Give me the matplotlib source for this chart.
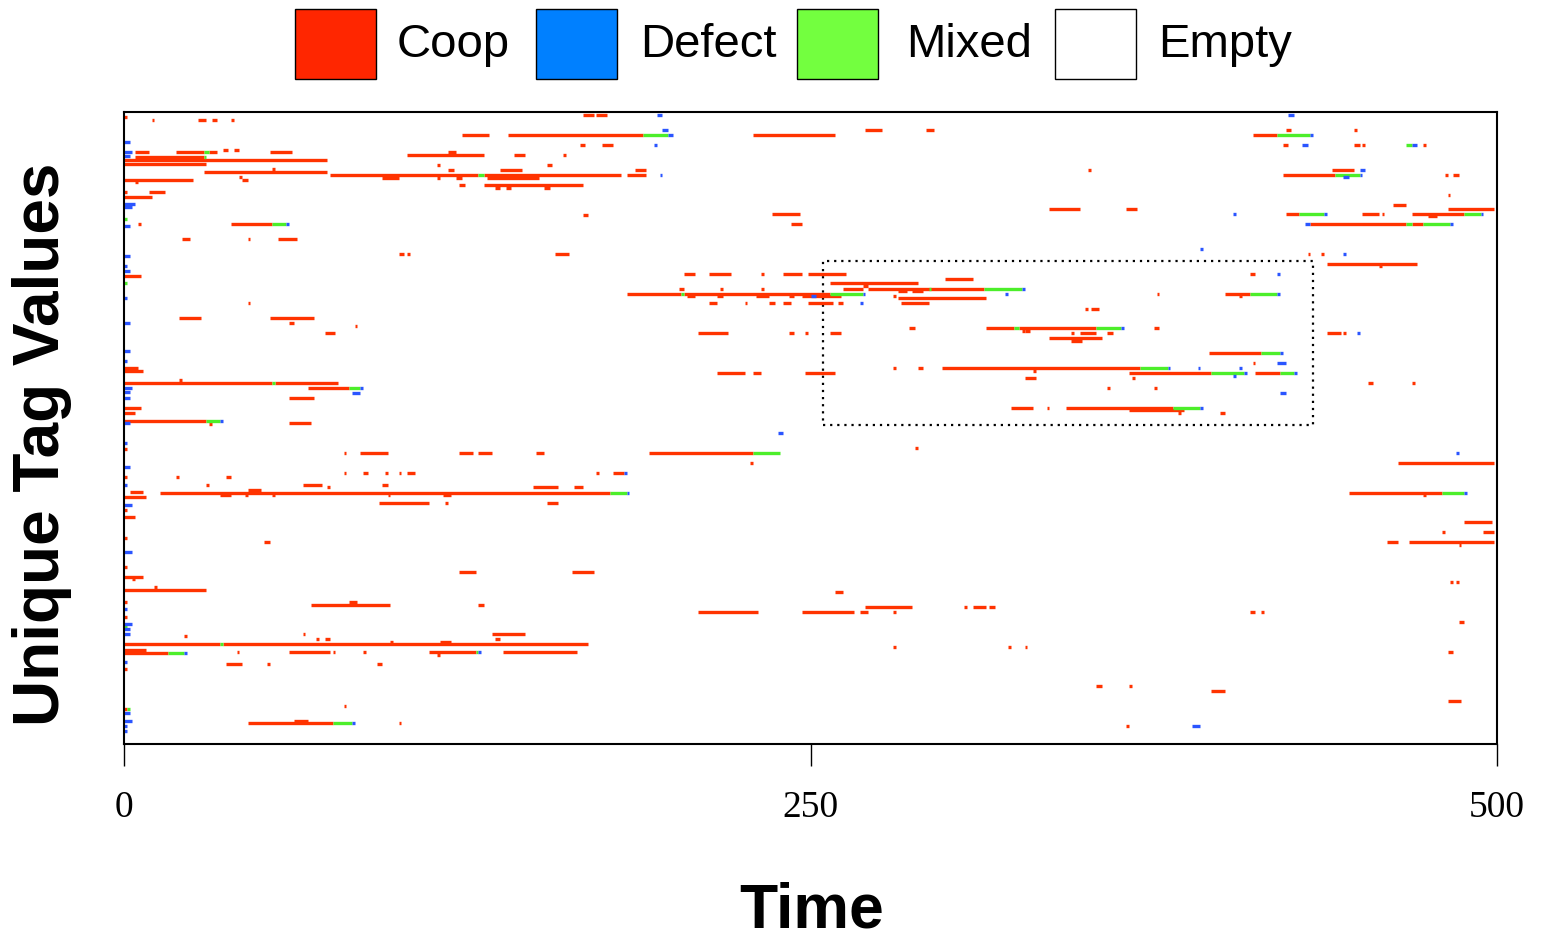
import matplotlib
matplotlib.use("Agg")
import matplotlib.pyplot as plt
from matplotlib.patches import Rectangle

# segments of each tag lineage: (tag value, start time, end time)
coop = [
    (209.0, 0, 1), (208.0, 10, 11), (208.0, 27, 30), (208.0, 32, 34), (208.0, 39, 40),
    (209.7, 167, 171), (209.7, 172, 176),
    (204.7, 270, 276), (204.7, 292, 295), (204.7, 423, 425), (204.7, 448, 449),
    (203.0, 123, 133), (203.0, 140, 189), (203.0, 229, 259), (203.0, 411, 420),
    (199.7, 166, 168), (199.7, 174, 178), (199.7, 422, 424), (199.7, 448, 450), (199.7, 451, 452), (199.7, 473, 474),
    (198.0, 36, 38), (198.0, 40, 42),
    (197.3, 4, 9), (197.3, 19, 29), (197.3, 31, 34), (197.3, 53, 61), (197.3, 118, 121),
    (196.3, 103, 131), (196.3, 142, 146), (196.3, 160, 161),
    (195.7, 4, 29), (194.7, 0, 74), (193.3, 0, 30),
    (193.0, 114, 115), (193.0, 154, 156),
    (191.7, 54, 55), (191.3, 118, 120), (191.3, 137, 145), (191.3, 186, 190), (191.3, 351, 352), (191.3, 440, 448),
    (190.7, 29, 74), (189.0, 42, 43),
    (189.7, 75, 129), (189.7, 131, 181), (189.7, 183, 190), (189.7, 422, 441), (189.7, 481, 482), (189.7, 484, 486),
    (188.7, 94, 100), (188.7, 114, 115), (188.7, 121, 123), (188.7, 132, 151),
    (188.0, 0, 25), (187.3, 4, 5), (188.0, 43, 45),
    (186.3, 122, 124), (186.3, 131, 167), (185.3, 135, 137), (185.3, 139, 141), (185.3, 153, 155),
    (184.0, 0, 1), (184.0, 9, 15), (183.0, 482, 483), (182.3, 0, 10),
    (179.7, 462, 467), (178.3, 337, 348), (178.3, 365, 369), (178.3, 482, 499),
    (176.7, 236, 246), (176.3, 167, 169), (176.7, 423, 428), (176.7, 451, 457), (176.7, 458, 459),
    (176.7, 469, 488), (176.0, 475, 478),
    (173.3, 5, 6), (173.3, 39, 54), (173.3, 243, 247), (173.3, 432, 467), (173.3, 469, 473),
    (168.3, 21, 24), (168.3, 45, 46), (168.3, 56, 63),
    (163.3, 100, 102), (163.3, 103, 104), (163.3, 157, 162), (163.3, 431, 432), (163.3, 436, 437),
    (160.0, 438, 471), (159.3, 457, 458),
    (156.7, 204, 208), (156.7, 213, 221), (156.7, 232, 233), (156.7, 240, 247), (156.7, 249, 263), (156.7, 410, 412),
    (156.0, 0, 6), (155.0, 299, 309), (153.7, 257, 289),
    (152.7, 269, 271), (151.7, 202, 204), (151.7, 217, 218), (151.7, 232, 233), (151.7, 262, 269), (151.7, 271, 313),
    (151.0, 282, 285), (151.0, 287, 291),
    (150.0, 183, 203), (150.0, 204, 257), (150.0, 376, 377), (150.0, 401, 410),
    (149.3, 205, 208), (149.3, 216, 218), (149.3, 230, 235), (149.3, 242, 244), (149.3, 247, 261),
    (149.3, 280, 281), (149.3, 406, 407),
    (148.7, 282, 314),
    (147.0, 45, 46), (147.0, 213, 216), (147.0, 226, 227), (147.0, 235, 237), (147.0, 240, 243),
    (147.0, 249, 258), (147.0, 260, 262), (147.0, 283, 293),
    (145.0, 350, 351), (145.0, 352, 355),
    (142.0, 20, 28), (142.0, 53, 69), (140.3, 60, 62), (139.3, 84, 85),
    (138.7, 286, 288), (138.7, 314, 324), (138.7, 326, 354), (138.7, 375, 377),
    (137.7, 327, 328), (137.7, 328, 330),
    (137.0, 73, 77), (137.0, 209, 220), (137.0, 242, 244), (137.0, 248, 249), (137.0, 257, 261),
    (137.0, 345, 346), (137.0, 348, 354), (137.0, 358, 360), (137.0, 438, 443), (137.0, 444, 445),
    (135.3, 337, 356), (134.3, 345, 349),
    (130.3, 395, 414), (127.0, 411, 412),
    (125.3, 280, 281), (125.3, 289, 291), (125.3, 298, 370), (124.3, 331, 332),
    (124.3, 0, 7), (125.3, 0, 5),
    (123.7, 216, 226), (123.7, 229, 232), (123.7, 248, 259), (123.7, 366, 396), (123.7, 412, 421),
    (122.0, 328, 332), (122.0, 367, 368),
    (121.3, 20, 21), (120.3, 0, 54), (120.3, 55, 78), (120.3, 453, 455), (120.3, 469, 470),
    (118.7, 67, 82), (118.7, 358, 359), (118.7, 375, 376),
    (115.3, 60, 69),
    (112.0, 0, 6), (112.0, 323, 331), (112.0, 336, 337), (112.0, 343, 382), (111.3, 366, 386),
    (110.3, 0, 4), (110.3, 384, 385), (110.3, 399, 401),
    (107.7, 0, 30), (106.7, 31, 32), (107.0, 60, 68),
    (98.7, 288, 289), (98.3, 0, 1),
    (97.0, 80, 81), (97.0, 86, 96), (97.0, 122, 127), (97.0, 129, 134), (97.0, 150, 153), (97.0, 191, 229),
    (93.7, 228, 229), (93.7, 464, 499),
    (90.3, 80, 81), (90.3, 87, 89), (90.3, 95, 96), (90.3, 100, 101), (90.3, 103, 106),
    (90.3, 172, 173), (90.3, 178, 182),
    (89.0, 0, 1), (89.0, 19, 20), (89.0, 37, 39),
    (86.3, 30, 31), (86.3, 65, 72), (85.7, 74, 75), (86.3, 94, 96), (85.7, 149, 158), (85.7, 164, 167),
    (84.7, 45, 50), (84.0, 2, 7), (83.7, 13, 177), (83.7, 446, 480),
    (83.0, 35, 39), (83.0, 44, 45), (83.0, 54, 55), (83.0, 96, 97), (83.0, 116, 119), (83.0, 473, 474),
    (82.3, 0, 8),
    (80.3, 93, 111), (80.3, 117, 118), (80.3, 154, 158),
    (78.0, 0, 1), (75.7, 0, 4), (74.0, 488, 498),
    (70.7, 480, 481), (70.7, 495, 499),
    (68.7, 0, 1), (67.3, 51, 53), (67.3, 460, 464), (67.3, 468, 499), (66.3, 486, 487),
    (59.0, 0, 1), (57.3, 122, 128), (57.3, 163, 171),
    (55.7, 0, 7), (55.0, 3, 4), (54.0, 483, 484), (54.0, 485, 486),
    (52.3, 11, 12), (51.3, 0, 30), (50.7, 259, 262),
    (47.3, 0, 1), (47.3, 82, 85), (46.3, 68, 97), (46.3, 129, 131),
    (45.7, 270, 287), (45.7, 306, 307), (45.7, 309, 314), (45.7, 315, 317),
    (44.0, 209, 231), (44.0, 247, 266), (44.0, 268, 271), (44.0, 280, 281), (44.0, 410, 412), (44.0, 414, 415),
    (42.3, 0, 1), (40.7, 486, 488),
    (36.7, 65, 66), (36.7, 134, 146), (36.0, 22, 23), (35.0, 70, 71), (35.0, 73, 75), (35.0, 135, 137),
    (34.0, 97, 98), (34.0, 115, 119), (33.3, 0, 35), (33.3, 36, 169),
    (32.3, 280, 281), (32.3, 322, 323), (32.3, 328, 329),
    (31.3, 0, 8), (30.3, 0, 16),
    (30.7, 41, 42), (30.7, 60, 75), (30.7, 76, 77), (30.7, 87, 88), (30.7, 111, 128), (30.7, 138, 165),
    (30.7, 482, 484), (29.7, 114, 115),
    (26.7, 37, 43), (26.7, 52, 53), (26.7, 92, 94),
    (25.0, 0, 1), (19.3, 354, 356), (19.3, 366, 367), (17.7, 396, 401),
    (14.3, 482, 487), (12.7, 80, 81), (11.7, 0, 1),
    (7.7, 62, 67), (7.0, 45, 76), (7.0, 100, 101), (6.0, 365, 366),
]

mixed = [
    (197.3, 29, 31), (195.7, 29, 30), (189.7, 129, 131), (203.0, 189, 198), (203.0, 420, 432),
    (199.7, 467, 469), (189.7, 441, 450), (176.7, 428, 437), (176.7, 488, 494),
    (175.0, 0, 1), (173.3, 54, 59), (173.3, 467, 469), (173.3, 473, 483),
    (153.7, 0, 1), (151.7, 293, 294), (151.7, 313, 327), (150.0, 203, 204), (150.0, 257, 269), (150.0, 410, 420),
    (138.7, 324, 326), (138.7, 354, 363), (130.3, 414, 421),
    (125.3, 370, 380), (123.7, 396, 408), (123.7, 421, 426),
    (120.3, 54, 55), (118.7, 82, 86), (112.0, 382, 392), (107.7, 30, 35),
    (97.0, 229, 239), (83.7, 177, 183), (83.7, 480, 488),
    (39.3, 0, 1), (33.3, 35, 36), (30.3, 16, 22), (30.7, 128, 129), (11.7, 1, 2), (7.0, 76, 83),
]

defect = [
    (209.7, 194, 196), (209.7, 424, 426), (204.7, 196, 198), (203.0, 198, 200), (203.0, 432, 433),
    (200.7, 0, 2), (199.7, 193, 194), (199.7, 429, 431), (199.7, 469, 471),
    (197.3, 0, 3), (196.0, 0, 2), (191.3, 450, 452), (189.7, 195, 196), (189.7, 450, 451), (189.0, 444, 446),
    (180.0, 0, 4), (179.0, 0, 3), (176.7, 404, 405), (176.7, 437, 438), (176.7, 494, 495),
    (173.3, 59, 60), (173.3, 430, 432), (173.3, 483, 484), (172.7, 0, 2),
    (165.0, 392, 393), (163.3, 444, 445), (162.7, 0, 2), (159.3, 0, 1), (157.7, 0, 2), (156.7, 420, 421),
    (150.0, 269, 270), (150.0, 321, 322), (150.0, 420, 421), (149.3, 250, 252), (148.7, 0, 1), (147.0, 268, 269),
    (151.7, 327, 328), (140.3, 0, 2), (138.7, 363, 364), (137.0, 449, 450),
    (131.0, 0, 2), (130.3, 421, 422), (127.7, 0, 1), (127.0, 420, 423),
    (125.3, 380, 381), (125.3, 391, 392), (125.3, 406, 407), (123.7, 408, 409), (123.7, 426, 427), (122.7, 404, 405),
    (118.7, 0, 3), (117.3, 0, 2), (118.7, 86, 87), (117.0, 83, 86), (117.0, 421, 423), (115.3, 0, 2),
    (112.0, 392, 393), (107.7, 35, 36), (107.0, 0, 2),
    (103.7, 238, 240), (100.3, 0, 1), (97.0, 485, 486),
    (92.3, 0, 2), (90.3, 182, 183), (86.3, 0, 1), (83.7, 183, 184), (83.7, 488, 489), (79.7, 0, 3),
    (64.0, 0, 3), (45.0, 0, 1), (40.0, 0, 3), (38.3, 0, 2), (36.7, 0, 2),
    (30.7, 129, 130), (30.3, 22, 23), (27.3, 0, 1),
    (10.3, 0, 2), (7.7, 0, 3), (7.0, 83, 84), (6.0, 0, 1), (6.0, 389, 392), (4.3, 0, 1),
]

# highlighted region (time range, tag range)
box_time = (254.6, 433.0)
box_tag = (106.3, 161.0)

x_ticks = [0, 250, 500]

legend_names = ['Coop', 'Defect', 'Mixed', 'Empty']
legend_colors = ['#FF2600', '#0080FF', '#73FF3F', '#FFFFFF']
line_colors = {'Coop': '#FF3300', 'Mixed': '#4CEE2A', 'Defect': '#2A55FF'}

fig = plt.figure(figsize=(15.43, 9.45), dpi=100)
ax = fig.add_axes([0.0804, 0.2116, 0.8898, 0.6688])

for name, segs in [('Coop', coop), ('Mixed', mixed), ('Defect', defect)]:
    ax.hlines([s[0] for s in segs], [s[1] for s in segs], [s[2] for s in segs],
              colors=line_colors[name], linewidth=2.4, capstyle='butt')

ax.add_patch(Rectangle((box_time[0], box_tag[0]), box_time[1] - box_time[0], box_tag[1] - box_tag[0],
                       fill=False, edgecolor='black', linewidth=1.6, linestyle=(0, (1, 2.2))))

ax.set_xlim(0, 500)
ax.set_ylim(0, 210.7)
ax.set_yticks([])
ax.set_xticks(x_ticks)
ax.set_xticklabels([str(t) for t in x_ticks], fontfamily='Liberation Serif', fontsize=27)
ax.tick_params(axis='x', direction='out', length=16, width=1, pad=17)
for sp in ax.spines.values():
    sp.set_linewidth(1.5)

# legend across the top
box_x = [0.1912, 0.3474, 0.5165, 0.6837]
text_x = [0.2573, 0.4148, 0.5872, 0.7505]
for name, col, bx, tx in zip(legend_names, legend_colors, box_x, text_x):
    fig.add_artist(Rectangle((bx, 0.9153), 0.0525, 0.0741, transform=fig.transFigure,
                             facecolor=col, edgecolor='black', linewidth=1))
    fig.text(tx, 0.940, name, fontsize=34, fontfamily='Liberation Sans', va='baseline', ha='left')

fig.text(0.0275, 0.530, 'Unique Tag Values', rotation=90, fontsize=46, fontweight='bold',
         fontfamily='Liberation Sans', ha='center', va='center')
fig.text(0.5263, 0.018, 'Time', fontsize=45, fontweight='bold', fontfamily='Liberation Sans',
         ha='center', va='baseline')

fig.savefig('out.png', dpi=100)
